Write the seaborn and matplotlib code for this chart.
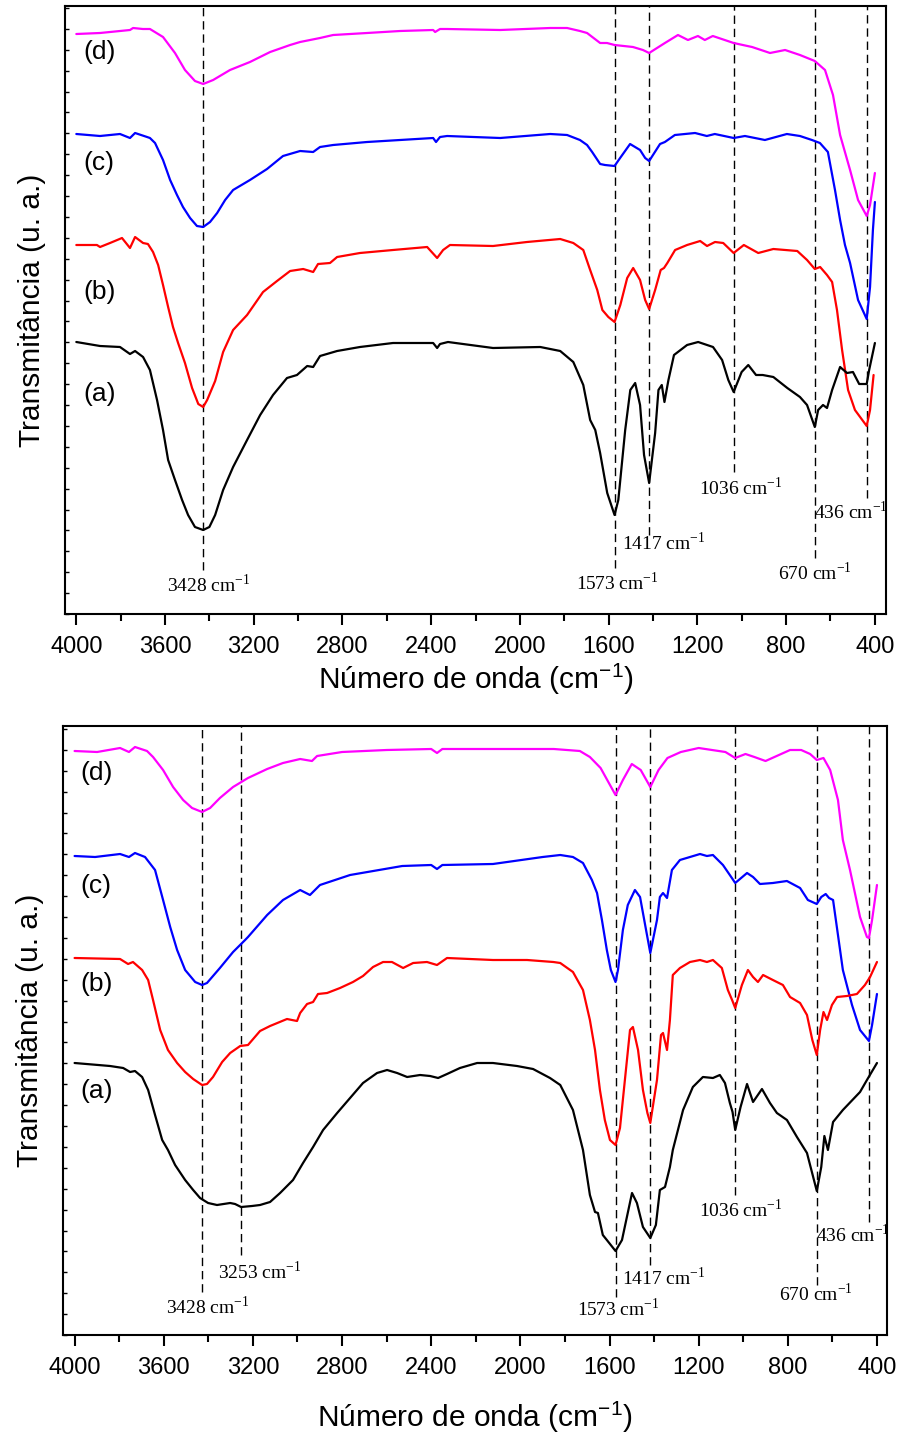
import numpy as np
import matplotlib
matplotlib.use("Agg")
import matplotlib.pyplot as plt
from matplotlib.ticker import MultipleLocator
import seaborn as sns

# ---------------- DATA (wavenumber in cm-1, transmittance in arbitrary units) ----------------
# ---- Top panel ----
top_d_wn = [4000, 3893, 3758, 3744, 3700, 3668, 3609, 3555, 3510, 3465, 3428, 3383, 3307, 3217, 3126, 3036,
            2991, 2901, 2842, 2689, 2540, 2391, 2382, 2360, 2328, 2089, 1863, 1787, 1729, 1697, 1638, 1607,
            1573, 1490, 1445, 1417, 1346, 1287, 1242, 1197, 1166, 1130, 1036, 953, 872, 804, 737, 670, 624,
            588, 556, 511, 475, 436, 421, 399]
top_d_val = [580, 581, 584, 586, 585, 585, 577, 561, 544, 533, 530, 534, 544, 552, 562, 569,
             572, 576, 579, 581, 583, 584, 582, 585, 585, 584, 586, 586, 583, 581, 571, 571,
             569, 567, 564, 561, 571, 579, 574, 578, 574, 578, 571, 567, 561, 564, 559, 553, 544,
             519, 479, 444, 414, 398, 409, 441]

top_c_wn = [4000, 3893, 3803, 3758, 3735, 3681, 3668, 3645, 3609, 3577, 3546, 3519, 3487, 3456, 3428, 3397,
            3365, 3329, 3293, 3217, 3140, 3068, 2991, 2932, 2901, 2842, 2689, 2540, 2391, 2378, 2360, 2328,
            2089, 1863, 1787, 1729, 1697, 1674, 1638, 1616, 1573, 1548, 1503, 1458, 1435, 1417, 1368, 1346,
            1301, 1210, 1157, 1121, 1036, 985, 895, 796, 737, 683, 647, 611, 579, 556, 534, 511, 475, 436,
            421, 408, 399]
top_c_val = [480, 478, 480, 476, 481, 477, 476, 471, 454, 434, 419, 407, 396, 388, 387, 392,
             401, 414, 424, 434, 445, 458, 463, 462, 467, 469, 472, 474, 476, 472, 477, 478,
             476, 480, 479, 474, 469, 462, 450, 449, 448, 456, 470, 464, 456, 453, 470, 472,
             479, 481, 478, 480, 476, 478, 474, 480, 478, 474, 471, 462, 424, 394, 369, 351, 314, 295,
             327, 384, 412]

top_b_wn = [4000, 3907, 3893, 3848, 3794, 3758, 3735, 3699, 3677, 3654, 3631, 3609, 3586, 3564, 3541, 3510,
            3478, 3450, 3428, 3410, 3374, 3338, 3293, 3230, 3158, 3095, 3036, 2977, 2932, 2910, 2856, 2824,
            2721, 2572, 2418, 2373, 2346, 2315, 2121, 1968, 1818, 1759, 1714, 1683, 1651, 1628, 1601, 1573,
            1547, 1516, 1489, 1458, 1435, 1417, 1390, 1365, 1350, 1335, 1300, 1246, 1187, 1156, 1120, 1083,
            1036, 990, 925, 857, 749, 705, 670, 646, 615, 592, 570, 547, 520, 489, 436, 421, 405]
top_b_val = [369, 369, 367, 371, 376, 366, 377, 371, 370, 362, 349, 329, 307, 287, 271, 251,
             226, 210, 207, 214, 233, 262, 284, 299, 322, 333, 343, 345, 342, 350, 351, 357,
             361, 364, 367, 356, 364, 369, 368, 372, 375, 371, 364, 344, 324, 304, 297, 292,
             309, 336, 346, 334, 314, 305, 324, 344, 346, 351, 364, 369, 373, 368, 372, 371,
             361, 369, 361, 365, 363, 354, 345, 347, 339, 332, 304, 264, 224, 204, 188, 204, 239]

top_a_wn = [4000, 3893, 3803, 3758, 3735, 3699, 3668, 3636, 3609, 3586, 3555, 3523, 3496, 3465, 3428, 3400,
            3374, 3338, 3293, 3230, 3171, 3113, 3050, 3005, 2959, 2932, 2901, 2824, 2721, 2572, 2391, 2373,
            2360, 2324, 2121, 1908, 1818, 1759, 1714, 1683, 1660, 1638, 1606, 1573, 1556, 1525, 1502, 1480,
            1458, 1440, 1417, 1390, 1375, 1360, 1348, 1330, 1305, 1246, 1196, 1129, 1088, 1060, 1036, 1000,
            970, 935, 905, 857, 794, 737, 705, 670, 655, 633, 615, 592, 556, 525, 498, 470, 436, 425, 399]
top_a_val = [272, 268, 267, 260, 263, 257, 244, 214, 184, 154, 134, 114, 99, 87, 84, 87,
             99, 124, 147, 174, 199, 219, 236, 239, 248, 247, 258, 263, 267, 271, 271, 266,
             270, 272, 266, 267, 263, 252, 229, 194, 184, 161, 121, 99, 114, 184, 224, 231,
             209, 159, 131, 181, 224, 229, 212, 234, 259, 269, 272, 267, 254, 234, 222, 242,
             249, 239, 239, 237, 226, 217, 209, 187, 204, 209, 206, 224, 247, 241, 242, 230, 230, 244, 271]

# ---- Bottom panel ----
bot_d_wn = [4000, 3899, 3796, 3756, 3729, 3675, 3648, 3603, 3558, 3513, 3473, 3428, 3392, 3348, 3289, 3222,
            3136, 3065, 2988, 2935, 2912, 2800, 2600, 2400, 2374, 2350, 2100, 1850, 1733, 1688, 1640, 1573,
            1540, 1500, 1460, 1417, 1380, 1340, 1280, 1200, 1140, 1080, 1036, 990, 950, 900, 850, 790, 740,
            700, 670, 640, 610, 575, 553, 521, 476, 445, 436, 422, 400]
bot_d_val = [584, 583, 587, 583, 588, 584, 578, 565, 548, 535, 527, 523, 527, 537, 548, 557,
             566, 572, 576, 574, 579, 583, 585, 586, 582, 586, 586, 586, 584, 578, 567, 540,
             555, 571, 565, 548, 565, 577, 583, 587, 585, 583, 577, 581, 578, 574, 579, 585, 585,
             581, 575, 577, 565, 535, 495, 465, 418, 398, 397, 415, 450]

bot_c_wn = [4000, 3908, 3796, 3756, 3729, 3684, 3639, 3603, 3571, 3540, 3504, 3459, 3428, 3406, 3348, 3289,
            3235, 3222, 3136, 3065, 2988, 2944, 2899, 2764, 2530, 2400, 2374, 2350, 2123, 1900, 1821, 1764,
            1719, 1679, 1656, 1634, 1612, 1594, 1573, 1562, 1540, 1518, 1486, 1463, 1436, 1417, 1387, 1374,
            1360, 1342, 1320, 1284, 1239, 1194, 1163, 1136, 1091, 1051, 1036, 983, 956, 925, 867, 804, 745,
            710, 670, 650, 630, 615, 597, 575, 553, 512, 476, 436, 422, 400]
bot_c_val = [479, 478, 481, 478, 482, 478, 465, 435, 408, 385, 365, 353, 350, 352, 367, 383,
             395, 398, 420, 435, 445, 440, 450, 460, 469, 470, 466, 470, 471, 478, 480, 478,
             472, 455, 442, 415, 385, 365, 353, 365, 405, 430, 445, 438, 405, 382, 415, 438,
             442, 437, 465, 475, 478, 481, 479, 480, 470, 457, 452, 462, 458, 451, 452, 454, 447,
             435, 431, 438, 441, 437, 435, 400, 365, 330, 305, 294, 310, 341]

bot_b_wn = [4000, 3796, 3760, 3738, 3697, 3670, 3648, 3616, 3581, 3540, 3504, 3468, 3428, 3406, 3379, 3338,
            3302, 3257, 3222, 3168, 3123, 3047, 3002, 2988, 2957, 2930, 2908, 2867, 2809, 2751, 2706, 2661,
            2616, 2576, 2526, 2481, 2419, 2374, 2329, 2123, 1970, 1852, 1821, 1764, 1719, 1688, 1665, 1643,
            1621, 1598, 1573, 1553, 1531, 1508, 1495, 1472, 1450, 1430, 1417, 1387, 1369, 1360, 1342, 1329,
            1316, 1284, 1239, 1194, 1163, 1136, 1096, 1069, 1050, 1036, 1006, 979, 956, 934, 911, 867, 822,
            790, 745, 714, 690, 670, 655, 640, 624, 602, 579, 535, 490, 454, 431, 400]
bot_b_val = [377, 376, 371, 373, 365, 355, 335, 305, 285, 272, 263, 256, 250, 251, 258, 273,
             282, 289, 290, 304, 309, 316, 314, 322, 331, 333, 341, 342, 347, 353, 359, 368,
             373, 373, 367, 372, 373, 370, 377, 375, 375, 373, 372, 363, 345, 315, 285, 245,
             215, 195, 190, 207, 255, 305, 308, 285, 245, 222, 212, 255, 300, 302, 285, 315,
             360, 367, 373, 375, 373, 375, 367, 345, 335, 327, 350, 365, 358, 353, 360, 355, 350,
             338, 332, 320, 295, 280, 305, 323, 315, 330, 338, 339, 341, 350, 358, 373]

bot_a_wn = [4000, 3841, 3782, 3751, 3729, 3697, 3670, 3639, 3607, 3581, 3549, 3504, 3468, 3437, 3401, 3361,
            3302, 3280, 3253, 3204, 3168, 3123, 3078, 3020, 2975, 2930, 2885, 2822, 2764, 2706, 2643, 2598,
            2553, 2508, 2450, 2405, 2369, 2329, 2271, 2194, 2123, 2015, 1943, 1867, 1821, 1764, 1719, 1688,
            1665, 1652, 1630, 1612, 1573, 1544, 1522, 1499, 1477, 1450, 1417, 1392, 1374, 1351, 1329, 1316,
            1270, 1226, 1181, 1136, 1105, 1082, 1060, 1048, 1036, 1012, 983, 956, 916, 880, 849, 804, 759,
            714, 670, 650, 636, 620, 597, 553, 476, 445, 400]
bot_a_val = [272, 269, 267, 263, 264, 258, 245, 220, 195, 185, 170, 155, 145, 137, 132, 130,
             132, 131, 128, 129, 130, 133, 142, 155, 172, 188, 205, 222, 237, 252, 262, 265,
             262, 258, 260, 259, 257, 261, 267, 272, 272, 269, 266, 257, 250, 225, 185, 140,
             123, 122, 100, 95, 84, 95, 118, 142, 132, 108, 97, 110, 145, 148, 168, 185,
             225, 248, 258, 257, 260, 252, 232, 223, 205, 228, 251, 233, 246, 232, 222, 215, 198,
             182, 144, 168, 199, 185, 213, 225, 243, 255, 272]

sample_labels = ["(d)", "(c)", "(b)", "(a)"]
line_colors = ["#FF00FF", "#0000FF", "#FF0000", "#000000"]

top_peaks = [3428, 1573, 1417, 1036, 670, 436]
bot_peaks = [3428, 3253, 1573, 1417, 1036, 670, 436]

xticks = [4000, 3600, 3200, 2800, 2400, 2000, 1600, 1200, 800, 400]
xlabel = "Número de onda (cm$^{\\mathregular{-1}}$)"
ylabel = "Transmitância (u. a.)"

# ---------------- LAYOUT ----------------
sns.set_style("ticks")
plt.rcParams["font.family"] = ["Liberation Sans", "DejaVu Sans"]
plt.rcParams["axes.linewidth"] = 1.5
for key in ["text.color", "axes.labelcolor", "xtick.color", "ytick.color", "axes.edgecolor"]:
    plt.rcParams[key] = "black"

fig = plt.figure(figsize=(9.01, 14.35), dpi=100)
ax_top = fig.add_axes([65 / 901, 1 - 614 / 1435, 821 / 901, 608 / 1435])
ax_bot = fig.add_axes([63 / 901, 1 - 1335 / 1435, 824 / 901, 609 / 1435])

panels = [
    dict(ax=ax_top, xlim=(4051, 349), ylim=(0, 608),
         series=[(top_d_wn, top_d_val), (top_c_wn, top_c_val), (top_b_wn, top_b_val), (top_a_wn, top_a_val)],
         peaks=top_peaks,
         line_end=[44, 46, 79, 142, 56, 116],
         lab_pos=[(3402, 29), (1561, 31), (1349, 71), (1002, 126), (669, 41), (506, 102)],
         tag_x=3970, tag_y=[562, 451, 322, 220], xlabelpad=2),
    dict(ax=ax_bot, xlim=(4052, 355), ylim=(0, 609),
         series=[(bot_d_wn, bot_d_val), (bot_c_wn, bot_c_val), (bot_b_wn, bot_b_val), (bot_a_wn, bot_a_val)],
         peaks=bot_peaks,
         line_end=[43, 80, 38, 70, 140, 50, 113],
         lab_pos=[(3401, 28), (3168, 63), (1561, 26), (1355, 57), (1010, 125), (674, 41), (508, 100)],
         tag_x=3975, tag_y=[562, 449, 351, 244], xlabelpad=14),
]

for p in panels:
    ax = p["ax"]
    top_val = p["ylim"][1]
    for pk, end in zip(p["peaks"], p["line_end"]):
        ax.plot([pk, pk], [end, top_val], color="black", lw=1.0, ls=(0, (6, 3.5)), zorder=1)
    for (wn, val), col in zip(p["series"], line_colors):
        sns.lineplot(x=np.array(wn), y=np.array(val), color=col, lw=1.6, ax=ax,
                     sort=False, estimator=None, zorder=3)
    for lab, ty in zip(sample_labels, p["tag_y"]):
        ax.text(p["tag_x"], ty, lab, fontsize=19, ha="left", va="center", color="black")
    for pk, (lx, ly) in zip(p["peaks"], p["lab_pos"]):
        ax.text(lx, ly, f"{pk} cm$^{{\\mathregular{{-1}}}}$", fontsize=14, color="black",
                family=["Liberation Serif", "DejaVu Serif"], ha="center", va="center")

    ax.set_xlim(*p["xlim"])
    ax.set_ylim(*p["ylim"])
    ax.set_xticks(xticks)
    ax.xaxis.set_minor_locator(MultipleLocator(200))
    ax.yaxis.set_major_locator(MultipleLocator(20.9))
    ax.tick_params(axis="x", which="major", direction="out", length=8, width=1.5,
                   labelsize=17, pad=8, top=False, colors="black")
    ax.tick_params(axis="x", which="minor", direction="out", length=5, width=1.5, top=False, colors="black")
    ax.tick_params(axis="y", which="major", direction="in", length=3, width=1.0,
                   labelleft=False, right=False, colors="black")
    ax.set_xlabel(xlabel, fontsize=21.5, labelpad=p["xlabelpad"], color="black")
    ax.set_ylabel(ylabel, fontsize=21.5, labelpad=14, color="black")
    for s in ax.spines.values():
        s.set_visible(True)
        s.set_linewidth(1.5)
        s.set_color("black")

fig.savefig("out.png", dpi=100)
